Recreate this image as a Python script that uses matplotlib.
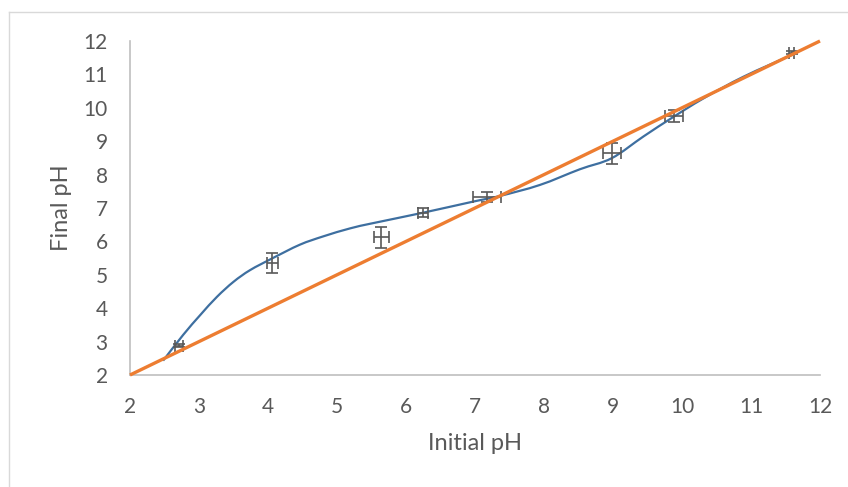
import matplotlib.pyplot as plt
from matplotlib.path import Path
from matplotlib.patches import PathPatch
from matplotlib.lines import Line2D

# measured points (initial pH, final pH) with x / y error
initial_ph = [2.71, 4.06, 5.64, 6.25, 7.17, 8.98, 9.88, 11.59]
final_ph = [2.88, 5.34, 6.12, 6.86, 7.34, 8.64, 9.75, 11.65]
initial_err = [0.06, 0.08, 0.11, 0.07, 0.2, 0.13, 0.13, 0.04]
final_err = [0.04, 0.3, 0.32, 0.14, 0.15, 0.32, 0.17, 0.04]

# smoothed blue curve
curve_x = [2.48, 2.77, 3.02, 3.26, 3.50, 3.74, 4.06, 4.46, 4.80, 5.19, 5.53,
           6.25, 6.97, 7.36, 7.94, 8.52, 8.98, 9.44, 9.87, 10.31, 10.89, 11.59]
curve_y = [2.43, 3.20, 3.80, 4.34, 4.79, 5.14, 5.49, 5.90, 6.15, 6.39, 6.55,
           6.86, 7.19, 7.36, 7.69, 8.16, 8.49, 9.14, 9.72, 10.28, 10.93, 11.58]

# y = x reference line
ideal_x = [2, 12]
ideal_y = [2, 12]

ticks = list(range(2, 13))

grey = "#595959"
blue = "#3E6FA0"
orange = "#ED7D31"


def smooth_path(xs, ys):
    # excel-like smoothing: catmull-rom turned into cubic bezier segments
    pts = list(zip(xs, ys))
    verts = [pts[0]]
    codes = [Path.MOVETO]
    n = len(pts)
    for i in range(n - 1):
        p0 = pts[i - 1] if i > 0 else pts[i]
        p1 = pts[i]
        p2 = pts[i + 1]
        p3 = pts[i + 2] if i + 2 < n else pts[i + 1]
        c1 = (p1[0] + (p2[0] - p0[0]) / 6, p1[1] + (p2[1] - p0[1]) / 6)
        c2 = (p2[0] - (p3[0] - p1[0]) / 6, p2[1] - (p3[1] - p1[1]) / 6)
        verts += [c1, c2, p2]
        codes += [Path.CURVE4] * 3
    return Path(verts, codes)


plt.rcParams["font.family"] = ["Lato", "DejaVu Sans"]

fig = plt.figure(figsize=(8.48, 4.87), dpi=100)
ax = fig.add_axes([130 / 848, 112 / 487, 690 / 848, 334 / 487])

ax.add_patch(PathPatch(smooth_path(curve_x, curve_y), facecolor="none",
                       edgecolor=blue, lw=1.6, zorder=2))
ax.errorbar(initial_ph, final_ph, xerr=initial_err, yerr=final_err, fmt="none",
            ecolor=grey, elinewidth=1.2, capsize=4, capthick=1.2, zorder=3)
ax.plot(ideal_x, ideal_y, color=orange, lw=2.4, solid_capstyle="butt",
        clip_on=False, zorder=4)

ax.set_xlim(2, 12)
ax.set_ylim(2, 12)
ax.set_xticks(ticks)
ax.set_yticks(ticks)
ax.tick_params(length=0, labelsize=15, labelcolor=grey)
ax.tick_params(axis="x", pad=16)
ax.tick_params(axis="y", pad=16)

for s in ["top", "right"]:
    ax.spines[s].set_visible(False)
for s in ["left", "bottom"]:
    ax.spines[s].set_color("#BFBFBF")
    ax.spines[s].set_linewidth(1.2)

ax.set_xlabel("Initial pH", fontsize=17, color=grey, labelpad=11)
ax.set_ylabel("Final pH", fontsize=17, color=grey, labelpad=8)

# chart area border (cropped on right and bottom)
fig.add_artist(Line2D([9 / 848, 9 / 848], [0, 475 / 487], color="#D9D9D9", lw=1))
fig.add_artist(Line2D([9 / 848, 1], [475 / 487, 475 / 487], color="#D9D9D9", lw=1))

fig.savefig("out.png", dpi=100)
